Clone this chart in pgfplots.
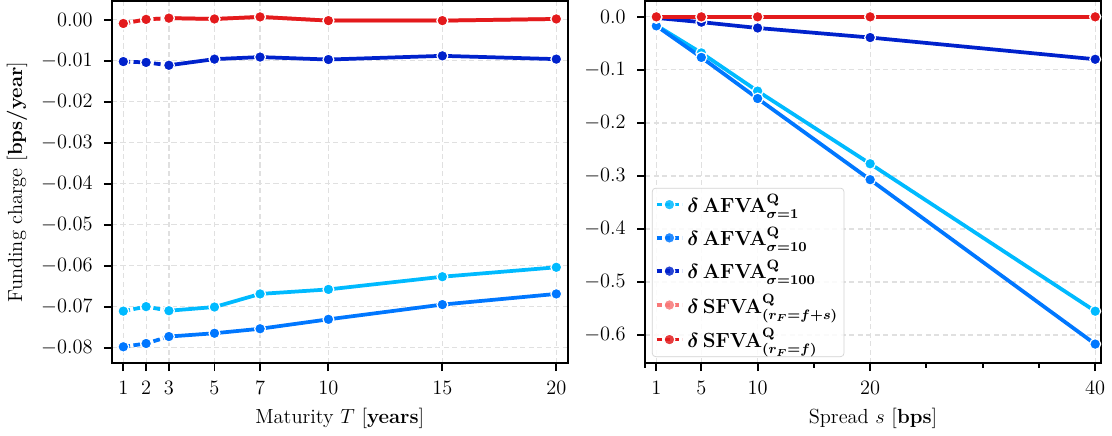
\documentclass[12pt,border=0pt]{standalone}
\usepackage{pgfplots}
\pgfplotsset{compat=1.18}
\usepackage{pgfplotstable}
\usepackage{amsmath}

\definecolor{cA}{RGB}{0,186,255}
\definecolor{cB}{RGB}{0,119,255}
\definecolor{cC}{RGB}{0,34,204}
\definecolor{cD}{RGB}{248,120,120}
\definecolor{cE}{RGB}{227,26,28}

\pgfplotstableread{
T s1 s10 s100 sfs sf
1 -0.0711 -0.0798 -0.0102 -0.0009 -0.0009
2 -0.0700 -0.0790 -0.0104 0.0001 0.0001
3 -0.0710 -0.0773 -0.0111 0.0004 0.0004
5 -0.0701 -0.0765 -0.0096 0.0002 0.0002
7 -0.0669 -0.0754 -0.0091 0.0007 0.0007
10 -0.0658 -0.0731 -0.0097 -0.0002 -0.0002
15 -0.0627 -0.0695 -0.0088 -0.0002 -0.0002
20 -0.0604 -0.0669 -0.0096 0.0002 0.0002
}\maturity

\pgfplotstableread{
s s1 s10 s100 sfs sf
1 -0.016 -0.017 -0.002 0.0 0.0
5 -0.068 -0.0765 -0.010 0.0 0.0
10 -0.140 -0.154 -0.021 0.0 0.0
20 -0.277 -0.307 -0.039 0.0 0.0
40 -0.555 -0.617 -0.080 0.0 0.0
}\spread

\pgfplotsset{
  base/.style={
    scale only axis, width=268pt, height=213pt,
    axis line style={line width=1.1pt},
    tick align=outside, tick pos=left,
    major tick length=4.7pt, minor tick length=2.8pt,
    tick style={black, line width=1.1pt},
    grid=major,
    major grid style={gray!24, line width=0.7pt, dash pattern=on 3pt off 2pt},
    scaled y ticks=false,
    yticklabel style={xshift=-2.5pt},
    xticklabel style={yshift=-1.5pt},
  },
  ser/.style={color=#1, line width=2.2pt},
  mk/.style={only marks, mark=*, mark size=3.2pt,
    mark options={fill=#1, draw=white, line width=0.7pt, solid}},
  lg/.style={ser=#1, mark=*, mark size=3.2pt,
    mark options={fill=#1, draw=white, line width=0.7pt, solid}},
  dsh/.style={ser=#1, dash pattern=on 4pt off 2pt, restrict x to domain=1:3, forget plot},
  sol/.style={ser=#1, restrict x to domain=3:20, forget plot},
}

\begin{document}
\begin{tikzpicture}
\begin{axis}[base,
  xmin=0.5, xmax=20.5, ymin=-0.0838, ymax=0.0046,
  xtick={1,2,3,5,7,10,15,20},
  ytick={-0.08,-0.07,-0.06,-0.05,-0.04,-0.03,-0.02,-0.01,0},
  yticklabel style={/pgf/number format/.cd, fixed, fixed zerofill, precision=2},
  xlabel={Maturity $T$ [\textbf{years}]},
  ylabel={Funding charge [\textbf{bps/year}]},
]
\addplot[dsh=cA] table[x=T,y=s1]{\maturity};
\addplot[sol=cA] table[x=T,y=s1]{\maturity};
\addplot[mk=cA, forget plot] table[x=T,y=s1]{\maturity};
\addplot[dsh=cB] table[x=T,y=s10]{\maturity};
\addplot[sol=cB] table[x=T,y=s10]{\maturity};
\addplot[mk=cB, forget plot] table[x=T,y=s10]{\maturity};
\addplot[dsh=cC] table[x=T,y=s100]{\maturity};
\addplot[sol=cC] table[x=T,y=s100]{\maturity};
\addplot[mk=cC, forget plot] table[x=T,y=s100]{\maturity};
\addplot[dsh=cD] table[x=T,y=sfs]{\maturity};
\addplot[sol=cD] table[x=T,y=sfs]{\maturity};
\addplot[mk=cD, forget plot] table[x=T,y=sfs]{\maturity};
\addplot[dsh=cE] table[x=T,y=sf]{\maturity};
\addplot[sol=cE] table[x=T,y=sf]{\maturity};
\addplot[mk=cE, forget plot] table[x=T,y=sf]{\maturity};
\end{axis}

\begin{axis}[base, at={(313.5pt,0pt)},
  xmin=0, xmax=40.5, ymin=-0.653, ymax=0.030,
  xtick={1,5,10,20,40},
  minor xtick={0,15,25,30,35},
  ytick={-0.6,-0.5,-0.4,-0.3,-0.2,-0.1,0},
  yticklabel style={/pgf/number format/.cd, fixed, fixed zerofill, precision=1},
  xlabel={Spread $s$ [\textbf{bps}]},
  legend style={at={(0.015,0.017)}, anchor=south west, draw=gray!35,
    fill=white, fill opacity=0.85, text opacity=1, rounded corners=2pt,
    font=\boldmath, row sep=3.2pt, inner sep=1.5pt, cells={anchor=west}},
  legend image code/.code={
    \draw[#1, dash pattern=on 3pt off 2pt, mark repeat=2, mark phase=2]
      plot coordinates {(0pt,0pt)(7.5pt,0pt)(15pt,0pt)};
  },
]
\addlegendimage{lg=cA}
\addlegendentry{$\delta\,\mathrm{AFVA}^{\mathrm{Q}}_{\sigma=1}$}
\addlegendimage{lg=cB}
\addlegendentry{$\delta\,\mathrm{AFVA}^{\mathrm{Q}}_{\sigma=10}$}
\addlegendimage{lg=cC}
\addlegendentry{$\delta\,\mathrm{AFVA}^{\mathrm{Q}}_{\sigma=100}$}
\addlegendimage{lg=cD}
\addlegendentry{$\delta\,\mathrm{SFVA}^{\mathrm{Q}}_{(r_F=f+s)}$}
\addlegendimage{lg=cE}
\addlegendentry{$\delta\,\mathrm{SFVA}^{\mathrm{Q}}_{(r_F=f)}$}
\addplot[ser=cA, forget plot] table[x=s,y=s1]{\spread};
\addplot[mk=cA, forget plot] table[x=s,y=s1]{\spread};
\addplot[ser=cB, forget plot] table[x=s,y=s10]{\spread};
\addplot[mk=cB, forget plot] table[x=s,y=s10]{\spread};
\addplot[ser=cC, forget plot] table[x=s,y=s100]{\spread};
\addplot[mk=cC, forget plot] table[x=s,y=s100]{\spread};
\addplot[ser=cD, forget plot] table[x=s,y=sfs]{\spread};
\addplot[mk=cD, forget plot] table[x=s,y=sfs]{\spread};
\addplot[ser=cE, forget plot] table[x=s,y=sf]{\spread};
\addplot[mk=cE, forget plot] table[x=s,y=sf]{\spread};
\end{axis}
\end{tikzpicture}
\end{document}
